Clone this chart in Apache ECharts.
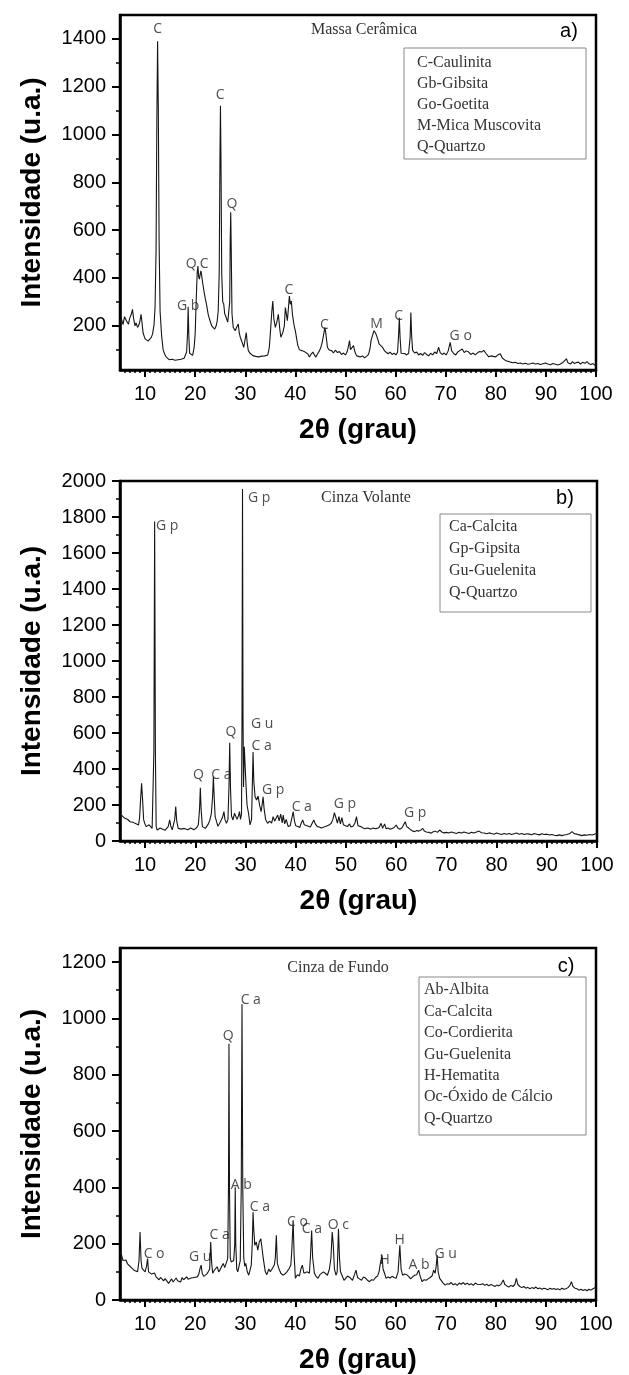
<!DOCTYPE html>
<html>
<head>
<meta charset="utf-8">
<script src="https://cdn.jsdelivr.net/npm/echarts@6/dist/echarts.min.js"></script>
<style>html,body{margin:0;padding:0;background:#fff}#c{width:629px;height:1375px}</style>
</head>
<body>
<div id="c"></div>
<script>
// ---------- DATA ----------
const xMajorTicks = [10,20,30,40,50,60,70,80,90,100];
const yTicksA = [200,400,600,800,1000,1200,1400];
const yTicksB = [0,200,400,600,800,1000,1200,1400,1600,1800,2000];
const yTicksC = [0,200,400,600,800,1000,1200];

const titleA = 'Massa Cerâmica';
const titleB = 'Cinza Volante';
const titleC = 'Cinza de Fundo';
const legendA = ['C-Caulinita','Gb-Gibsita','Go-Goetita','M-Mica Muscovita','Q-Quartzo'];
const legendB = ['Ca-Calcita','Gp-Gipsita','Gu-Guelenita','Q-Quartzo'];
const legendC = ['Ab-Albita','Ca-Calcita','Co-Cordierita','Gu-Guelenita','H-Hematita','Oc-Óxido de Cálcio','Q-Quartzo'];

// [2theta, intensity]
const patternA = [
[5.0,215],[5.3,228],[5.6,205],[5.9,238],[6.1,241],[6.3,220],[6.5,212],[6.7,207],[6.9,230],[7.2,245],
[7.5,269],[7.7,232],[8.0,200],[8.2,212],[8.5,193],[8.8,205],[9.0,222],[9.2,248],[9.4,210],[9.6,172],
[9.8,158],[10.0,145],[10.3,140],[10.6,136],[10.9,142],[11.2,150],[11.5,165],[11.8,205],[12.0,280],[12.2,520],
[12.35,1050],[12.5,1390],[12.65,1100],[12.8,560],[13.0,260],[13.3,160],[13.6,100],[13.9,82],[14.2,70],[14.5,63],
[14.8,58],[15.1,54],[15.4,60],[15.7,52],[16.0,56],[16.3,50],[16.6,58],[16.9,53],[17.2,60],[17.5,56],
[17.8,64],[18.1,72],[18.3,90],[18.5,180],[18.6,280],[18.75,150],[18.9,85],[19.2,80],[19.5,76],[19.8,110],
[20.0,166],[20.2,300],[20.4,420],[20.55,450],[20.7,405],[20.85,395],[21.0,415],[21.15,430],[21.3,410],[21.5,379],
[21.8,340],[22.0,317],[22.3,285],[22.6,248],[22.9,225],[23.3,200],[23.6,192],[23.9,186],[24.2,200],[24.4,220],
[24.6,262],[24.8,420],[24.95,900],[25.05,1120],[25.15,900],[25.3,420],[25.5,300],[25.7,291],[25.9,250],[26.1,240],
[26.3,234],[26.5,215],[26.7,221],[26.9,300],[27.0,560],[27.1,675],[27.2,520],[27.35,250],[27.6,193],[27.8,200],
[28.0,179],[28.3,195],[28.6,207],[28.8,170],[29.0,152],[29.3,135],[29.7,110],[30.0,118],[30.2,172],[30.4,125],
[30.6,97],[30.9,86],[31.2,78],[31.5,75],[31.8,80],[32.1,72],[32.4,76],[32.7,70],[33.0,78],[33.3,73],
[33.6,80],[33.9,74],[34.2,82],[34.5,78],[34.8,110],[35.0,166],[35.3,260],[35.5,303],[35.7,230],[36.0,193],
[36.3,215],[36.6,248],[36.9,185],[37.1,152],[37.3,160],[37.5,172],[37.8,200],[38.0,276],[38.2,250],[38.4,221],
[38.6,270],[38.8,324],[39.0,290],[39.2,303],[39.4,250],[39.6,221],[39.8,195],[40.0,179],[40.3,140],[40.5,117],
[40.8,100],[41.2,97],[41.5,105],[41.8,92],[42.1,98],[42.5,82],[42.8,69],[43.1,80],[43.5,90],[43.8,78],
[44.1,69],[44.5,85],[44.8,95],[45.1,110],[45.4,135],[45.7,170],[45.9,193],[46.1,165],[46.4,110],[46.7,100],
[47.0,92],[47.3,95],[47.6,86],[48.0,98],[48.4,88],[48.8,92],[49.2,80],[49.6,86],[50.0,78],[50.3,90],
[50.6,115],[50.8,138],[51.0,100],[51.3,92],[51.6,117],[51.9,90],[52.2,75],[52.6,72],[53.0,69],[53.4,74],
[53.8,66],[54.2,72],[54.6,80],[54.9,105],[55.1,138],[55.4,160],[55.7,179],[56.0,170],[56.2,159],[56.5,140],
[56.7,124],[57.0,118],[57.4,110],[57.8,95],[58.1,88],[58.5,83],[58.9,90],[59.3,80],[59.7,85],[60.1,78],
[60.4,90],[60.6,160],[60.75,234],[60.9,150],[61.1,85],[61.4,80],[61.8,84],[62.2,78],[62.6,85],[62.9,150],
[63.05,255],[63.2,160],[63.4,97],[63.8,86],[64.2,90],[64.6,78],[65.0,84],[65.4,76],[65.8,88],[66.2,80],
[66.6,74],[67.0,85],[67.4,78],[67.8,90],[68.2,84],[68.6,110],[68.9,88],[69.3,80],[69.7,86],[70.1,78],
[70.5,95],[70.9,131],[71.2,95],[71.6,84],[72.0,78],[72.4,90],[72.8,96],[73.3,103],[73.7,88],[74.1,95],
[74.6,90],[75.0,80],[75.5,86],[75.9,78],[76.4,88],[76.8,92],[77.2,90],[77.6,97],[78.0,85],[78.6,70],
[79.0,74],[79.5,72],[80.0,70],[80.4,78],[80.9,83],[81.3,65],[81.9,55],[82.4,52],[82.9,48],[83.4,45],
[83.9,47],[84.4,42],[84.9,44],[85.4,40],[85.9,43],[86.4,39],[86.9,41],[87.4,44],[87.9,40],[88.4,42],
[88.9,38],[89.4,41],[89.9,44],[90.4,40],[90.9,37],[91.4,42],[91.9,39],[92.4,36],[92.9,40],[93.3,45],
[93.6,38],[94.1,62],[94.4,45],[94.9,40],[95.3,50],[95.7,42],[96.1,46],[96.5,48],[96.9,40],[97.3,47],
[97.8,43],[98.2,50],[98.6,41],[99.0,38],[99.4,42],[99.8,34],[100,38]
];

const patternB = [
[5.0,150],[5.3,144],[5.6,135],[6.0,126],[6.3,128],[6.6,118],[7.0,107],[7.3,112],[7.6,104],[8.0,98],
[8.3,95],[8.7,89],[8.9,130],[9.1,230],[9.3,320],[9.5,230],[9.7,120],[9.9,100],[10.2,80],[10.5,84],
[10.8,90],[11.1,82],[11.4,70],[11.6,80],[11.75,500],[11.9,1775],[12.05,500],[12.2,80],[12.4,61],[12.7,66],
[13.0,72],[13.3,70],[13.6,64],[14.0,60],[14.3,68],[14.6,80],[14.9,117],[15.1,85],[15.4,62],[15.7,70],
[15.9,120],[16.1,191],[16.3,110],[16.6,70],[16.9,62],[17.2,66],[17.5,58],[17.8,70],[18.1,76],[18.5,62],
[18.8,60],[19.1,72],[19.4,78],[19.7,62],[20.0,66],[20.3,75],[20.6,90],[20.85,180],[21.0,296],[21.15,180],
[21.4,80],[21.7,75],[22.0,70],[22.3,78],[22.6,95],[22.9,117],[23.2,154],[23.45,250],[23.6,357],[23.75,250],
[23.95,135],[24.2,110],[24.5,82],[24.8,96],[25.1,107],[25.4,130],[25.7,163],[25.9,120],[26.2,98],[26.5,120],
[26.7,300],[26.85,546],[27.0,300],[27.2,140],[27.5,117],[27.8,154],[28.0,150],[28.3,120],[28.6,140],[28.8,163],
[29.0,120],[29.2,150],[29.3,700],[29.4,1955],[29.5,700],[29.6,300],[29.75,524],[29.9,524],[30.05,339],[30.3,200],
[30.6,154],[30.9,89],[31.2,120],[31.35,300],[31.5,495],[31.65,330],[31.9,246],[32.2,228],[32.5,250],[32.8,200],
[33.1,163],[33.3,200],[33.5,246],[33.7,180],[34.0,120],[34.4,98],[34.8,110],[35.2,100],[35.5,135],[35.8,110],
[36.1,100],[36.4,144],[36.7,112],[37.0,150],[37.3,100],[37.5,144],[37.8,95],[38.1,120],[38.5,80],[38.9,85],
[39.2,90],[39.5,163],[39.75,110],[40.0,85],[40.4,80],[40.8,75],[41.1,100],[41.4,117],[41.7,90],[42.0,80],
[42.5,82],[42.9,78],[43.3,100],[43.6,117],[43.9,95],[44.3,80],[44.7,78],[45.1,72],[45.5,76],[45.9,80],
[46.3,85],[46.7,90],[47.1,100],[47.4,120],[47.7,157],[48.0,130],[48.3,100],[48.6,135],[48.9,95],[49.2,130],
[49.5,90],[49.9,85],[50.3,80],[50.7,95],[51.0,78],[51.4,82],[51.8,100],[52.1,135],[52.4,85],[52.7,75],
[53.0,80],[53.4,72],[53.8,68],[54.2,72],[54.6,70],[55.0,66],[55.4,72],[55.8,68],[56.2,70],[56.6,75],
[57.0,98],[57.3,70],[57.7,95],[58.0,68],[58.4,72],[58.8,65],[59.2,70],[59.6,75],[60.0,89],[60.4,70],
[60.8,66],[61.2,75],[61.5,85],[61.8,107],[62.1,80],[62.5,72],[62.9,62],[63.3,55],[63.7,52],[64.1,58],
[64.5,55],[64.9,60],[65.3,70],[65.6,55],[66.0,50],[66.5,48],[66.9,43],[67.3,50],[67.8,55],[68.2,48],
[68.7,61],[69.1,50],[69.5,45],[70.0,48],[70.5,44],[71.0,50],[71.5,46],[72.0,42],[72.5,48],[73.0,44],
[73.5,50],[74.0,46],[74.5,42],[75.0,48],[75.5,44],[76.0,50],[76.5,55],[77.0,46],[77.5,44],[78.0,40],
[78.5,45],[79.0,42],[79.5,38],[80.0,44],[80.5,40],[81.0,36],[81.5,42],[82.0,38],[82.5,42],[83.0,36],
[83.5,40],[84.0,44],[84.5,38],[85.0,42],[85.5,36],[86.0,40],[86.5,38],[87.0,35],[87.5,42],[88.0,38],
[88.5,34],[89.0,40],[89.5,36],[90.0,38],[90.5,33],[91.0,36],[91.5,32],[92.0,30],[92.5,34],[93.0,30],
[93.5,33],[94.0,36],[94.5,40],[95.0,52],[95.5,40],[96.0,38],[96.5,34],[97.0,30],[97.5,34],[98.0,32],
[98.5,36],[99.0,33],[99.5,38],[100,43]
];

const patternC = [
[5.0,171],[5.3,160],[5.6,140],[5.9,135],[6.2,142],[6.5,128],[6.8,124],[7.1,118],[7.4,120],[7.8,106],
[8.1,112],[8.5,100],[8.8,140],[9.0,241],[9.2,140],[9.4,112],[9.7,105],[10.0,100],[10.3,120],[10.5,147],
[10.7,100],[11.0,94],[11.3,92],[11.6,88],[11.9,96],[12.2,82],[12.5,78],[12.8,72],[13.1,80],[13.4,74],
[13.7,68],[14.0,76],[14.3,70],[14.7,59],[15.0,66],[15.3,75],[15.6,64],[15.9,70],[16.2,78],[16.5,68],
[16.8,74],[17.1,64],[17.4,80],[17.7,72],[18.0,70],[18.3,82],[18.6,74],[18.9,68],[19.2,78],[19.5,72],
[19.8,80],[20.1,75],[20.4,82],[20.7,90],[20.95,110],[21.2,124],[21.4,95],[21.7,84],[22.0,88],[22.3,92],
[22.6,100],[22.9,110],[23.1,206],[23.3,130],[23.5,95],[23.8,105],[24.1,112],[24.4,118],[24.7,100],[25.0,108],
[25.3,120],[25.6,130],[25.9,115],[26.2,110],[26.5,147],[26.65,400],[26.75,910],[26.85,400],[27.0,150],[27.2,135],
[27.5,130],[27.7,140],[27.9,200],[28.0,400],[28.1,200],[28.3,110],[28.5,100],[28.8,124],[29.0,140],[29.2,400],
[29.35,1050],[29.5,400],[29.7,150],[29.9,120],[30.1,130],[30.4,100],[30.7,88],[31.0,110],[31.2,124],[31.4,200],
[31.55,312],[31.7,250],[31.9,194],[32.2,206],[32.5,177],[32.8,206],[33.1,218],[33.3,190],[33.6,147],[34.0,100],
[34.3,90],[34.7,110],[35.0,100],[35.4,112],[35.8,124],[36.0,150],[36.2,230],[36.4,130],[36.7,112],[37.1,95],
[37.5,88],[37.9,92],[38.3,100],[38.7,110],[39.1,124],[39.3,180],[39.55,283],[39.75,160],[40.0,77],[40.4,90],
[40.8,85],[41.1,110],[41.4,124],[41.7,95],[42.0,88],[42.4,100],[42.8,95],[43.0,150],[43.25,247],[43.45,150],
[43.8,95],[44.1,85],[44.5,77],[44.9,90],[45.2,88],[45.6,100],[46.0,94],[46.4,88],[46.8,110],[47.1,150],
[47.35,241],[47.55,200],[47.8,110],[48.1,88],[48.35,100],[48.6,253],[48.8,150],[49.0,100],[49.3,88],[49.7,70],
[50.0,65],[50.4,85],[50.7,90],[51.0,78],[51.4,70],[51.8,90],[52.1,106],[52.4,80],[52.8,75],[53.2,70],
[53.6,82],[54.0,78],[54.4,70],[54.8,65],[55.2,72],[55.6,70],[56.0,80],[56.4,85],[56.7,100],[56.9,124],
[57.1,120],[57.3,159],[57.5,110],[57.8,95],[58.1,77],[58.5,82],[58.9,78],[59.3,84],[59.7,80],[60.1,77],
[60.5,100],[60.85,194],[61.1,110],[61.4,88],[61.8,92],[62.2,90],[62.6,84],[63.0,75],[63.4,82],[63.8,88],
[64.2,90],[64.6,106],[64.9,85],[65.3,65],[65.7,72],[66.1,70],[66.5,75],[66.9,80],[67.3,86],[67.6,106],
[67.9,95],[68.1,120],[68.3,159],[68.5,100],[68.8,77],[69.1,70],[69.5,60],[69.9,53],[70.3,58],[70.7,56],
[71.1,62],[71.5,54],[71.9,58],[72.3,52],[72.7,60],[73.1,56],[73.5,62],[73.9,55],[74.3,60],[74.7,54],
[75.1,58],[75.5,52],[75.9,60],[76.3,56],[76.6,62],[77.0,55],[77.4,58],[77.8,52],[78.2,56],[78.6,50],
[79.0,55],[79.4,52],[79.8,48],[80.2,53],[80.6,50],[81.0,55],[81.5,71],[81.8,55],[82.2,50],[82.6,46],
[83.0,52],[83.4,48],[83.8,55],[84.1,77],[84.4,55],[84.8,48],[85.2,44],[85.6,48],[86.0,42],[86.4,45],
[86.8,40],[87.2,44],[87.6,41],[88.0,46],[88.4,40],[88.8,43],[89.2,38],[89.6,42],[90.0,40],[90.4,36],
[90.8,42],[91.2,38],[91.6,41],[92.0,37],[92.4,40],[92.8,36],[93.2,42],[93.6,38],[94.0,40],[94.4,44],
[94.8,52],[95.1,65],[95.4,48],[95.8,42],[96.2,40],[96.6,35],[97.0,38],[97.4,34],[97.8,37],[98.2,33],
[98.6,38],[99.0,35],[99.4,40],[99.8,44],[100,38]
];

// peak labels [2theta, intensity, text]
const peaksA = [[12.5,1440,'C'],[25.0,1165,'C'],[27.35,710,'Q'],[19.2,458,'Q'],[21.8,458,'C'],[18.6,283,'G b'],
  [38.7,350,'C'],[45.8,205,'C'],[56.2,208,'M'],[60.6,241,'C'],[73.0,159,'G o']];
const peaksB = [[14.4,1750,'G p'],[32.7,1906,'G p'],[20.6,367,'Q'],[25.2,367,'C a'],[27.1,605,'Q'],[33.3,652,'G u'],
  [33.2,530,'C a'],[35.5,283,'G p'],[41.2,191,'C a'],[49.8,206,'G p'],[63.8,157,'G p']];
const peaksC = [[11.8,165,'C o'],[21.0,153,'G u'],[24.9,230,'C a'],[26.6,936,'Q'],[31.1,1064,'C a'],[29.2,409,'A b'],
  [32.9,330,'C a'],[40.4,277,'C o'],[43.3,251,'C a'],[48.6,265,'O c'],[57.8,141,'H'],[60.8,212,'H'],[64.7,124,'A b'],[70.0,165,'G u']];

// ---------- LAYOUT ----------
const panels = [
  {grid:{left:120, top:15, width:476, height:355}, ymin:15, ymax:1500, yTicks:yTicksA, data:patternA, peaks:peaksA,
   title:titleA, titlePos:[364,30], letter:'a)', letterPos:[569,31], legend:legendA, legRect:[404,48,182,111], legText:[417,52.5], legLH:21},
  {grid:{left:120, top:481, width:477, height:360}, ymin:0, ymax:2000, yTicks:yTicksB, data:patternB, peaks:peaksB,
   title:titleB, titlePos:[366,498], letter:'b)', letterPos:[565,498], legend:legendB, legRect:[440,514,151,98], legText:[449,516], legLH:22},
  {grid:{left:120, top:948, width:476, height:354}, ymin:0, ymax:1250, yTicks:yTicksC, data:patternC, peaks:peaksC,
   title:titleC, titlePos:[338,968], letter:'c)', letterPos:[566,966], legend:legendC, legRect:[419,977,167,158], legText:[424,979.5], legLH:21.4}
];

const xMinor = [];
for (let v = 6; v < 100; v++) if (v % 10 !== 0) xMinor.push(v);

const SANS = '"Liberation Sans", Arial, sans-serif';
const SERIF = '"Liberation Serif", "Times New Roman", serif';
const plain = (v) => String(Math.round(v));

const grids = [], xAxes = [], yAxes = [], series = [], graphics = [];
panels.forEach((p, i) => {
  grids.push(Object.assign({show:true, borderColor:'#000', borderWidth:2.5, backgroundColor:'transparent'}, p.grid));
  const yMinor = [];
  for (let k = 0; k < p.yTicks.length; k++) {
    const m = p.yTicks[k] - 100;
    if (m > p.ymin) yMinor.push(m);
  }
  const lastMinor = p.yTicks[p.yTicks.length-1] + 100;
  if (lastMinor < p.ymax) yMinor.push(lastMinor);
  xAxes.push({type:'value', gridIndex:i, min:5, max:100, position:'bottom',
    axisLine:{show:true, onZero:false, lineStyle:{color:'#000', width:2.5}},
    axisTick:{show:true, customValues:xMajorTicks, length:7, inside:false, lineStyle:{color:'#000', width:2}},
    axisLabel:{show:true, customValues:xMajorTicks, formatter:plain, margin:14, fontSize:20, color:'#000', fontFamily:SANS},
    splitLine:{show:false},
    name:'2θ (grau)', nameLocation:'middle', nameGap:46,
    nameTextStyle:{fontSize:28, fontWeight:'bold', color:'#000', fontFamily:SANS}});
  xAxes.push({type:'value', gridIndex:i, min:5, max:100, position:'bottom',
    axisLine:{show:false, onZero:false}, axisTick:{show:true, customValues:xMinor, length:3, lineStyle:{color:'#000', width:1.5}},
    axisLabel:{show:false}, splitLine:{show:false}});
  yAxes.push({type:'value', gridIndex:i, min:p.ymin, max:p.ymax, position:'left',
    axisLine:{show:true, onZero:false, lineStyle:{color:'#000', width:2.5}},
    axisTick:{show:true, customValues:p.yTicks, length:8, lineStyle:{color:'#000', width:2}},
    axisLabel:{show:true, customValues:p.yTicks, formatter:plain, margin:14, fontSize:20, color:'#000', fontFamily:SANS},
    splitLine:{show:false},
    name:'Intensidade (u.a.)', nameLocation:'middle', nameGap:74,
    nameTextStyle:{fontSize:28, fontWeight:'bold', color:'#000', fontFamily:SANS}});
  yAxes.push({type:'value', gridIndex:i, min:p.ymin, max:p.ymax, position:'left',
    axisLine:{show:false, onZero:false}, axisTick:{show:true, customValues:yMinor, length:4, lineStyle:{color:'#000', width:1.5}},
    axisLabel:{show:false}, splitLine:{show:false}});

  series.push({type:'line', xAxisIndex:2*i, yAxisIndex:2*i, data:p.data, showSymbol:false, symbol:'none',
    lineStyle:{color:'#151515', width:1.1}, silent:true, z:3});
  series.push({type:'scatter', xAxisIndex:2*i, yAxisIndex:2*i, data:p.peaks, symbolSize:1,
    itemStyle:{color:'rgba(0,0,0,0)'}, silent:true, z:4,
    label:{show:true, position:'inside', formatter:(d)=>d.data[2], fontSize:14, color:'#222',
      fontFamily:'"Open Sans", "Noto Sans", sans-serif'}});

  graphics.push({type:'text', x:p.titlePos[0], y:p.titlePos[1], z:10,
    style:{text:p.title, font:'16px ' + SERIF, fill:'#333', align:'center', verticalAlign:'middle'}});
  graphics.push({type:'text', x:p.letterPos[0], y:p.letterPos[1], z:12,
    style:{text:p.letter, font:'20px ' + SANS, fill:'#000', align:'center', verticalAlign:'middle'}});
  graphics.push({type:'rect', z:10, shape:{x:p.legRect[0], y:p.legRect[1], width:p.legRect[2], height:p.legRect[3]},
    style:{fill:'#fff', stroke:'#888', lineWidth:1}});
  graphics.push({type:'text', x:p.legText[0], y:p.legText[1], z:11,
    style:{text:p.legend.join('\n'), font:'16px ' + SERIF, fill:'#333', lineHeight:p.legLH, align:'left', verticalAlign:'top'}});
});

const chart = echarts.init(document.getElementById('c'), null, {renderer:'canvas', width:629, height:1375});
chart.setOption({
  animation:false,
  backgroundColor:'#fff',
  grid:grids, xAxis:xAxes, yAxis:yAxes, series:series, graphic:graphics
});
</script>
</body>
</html>
